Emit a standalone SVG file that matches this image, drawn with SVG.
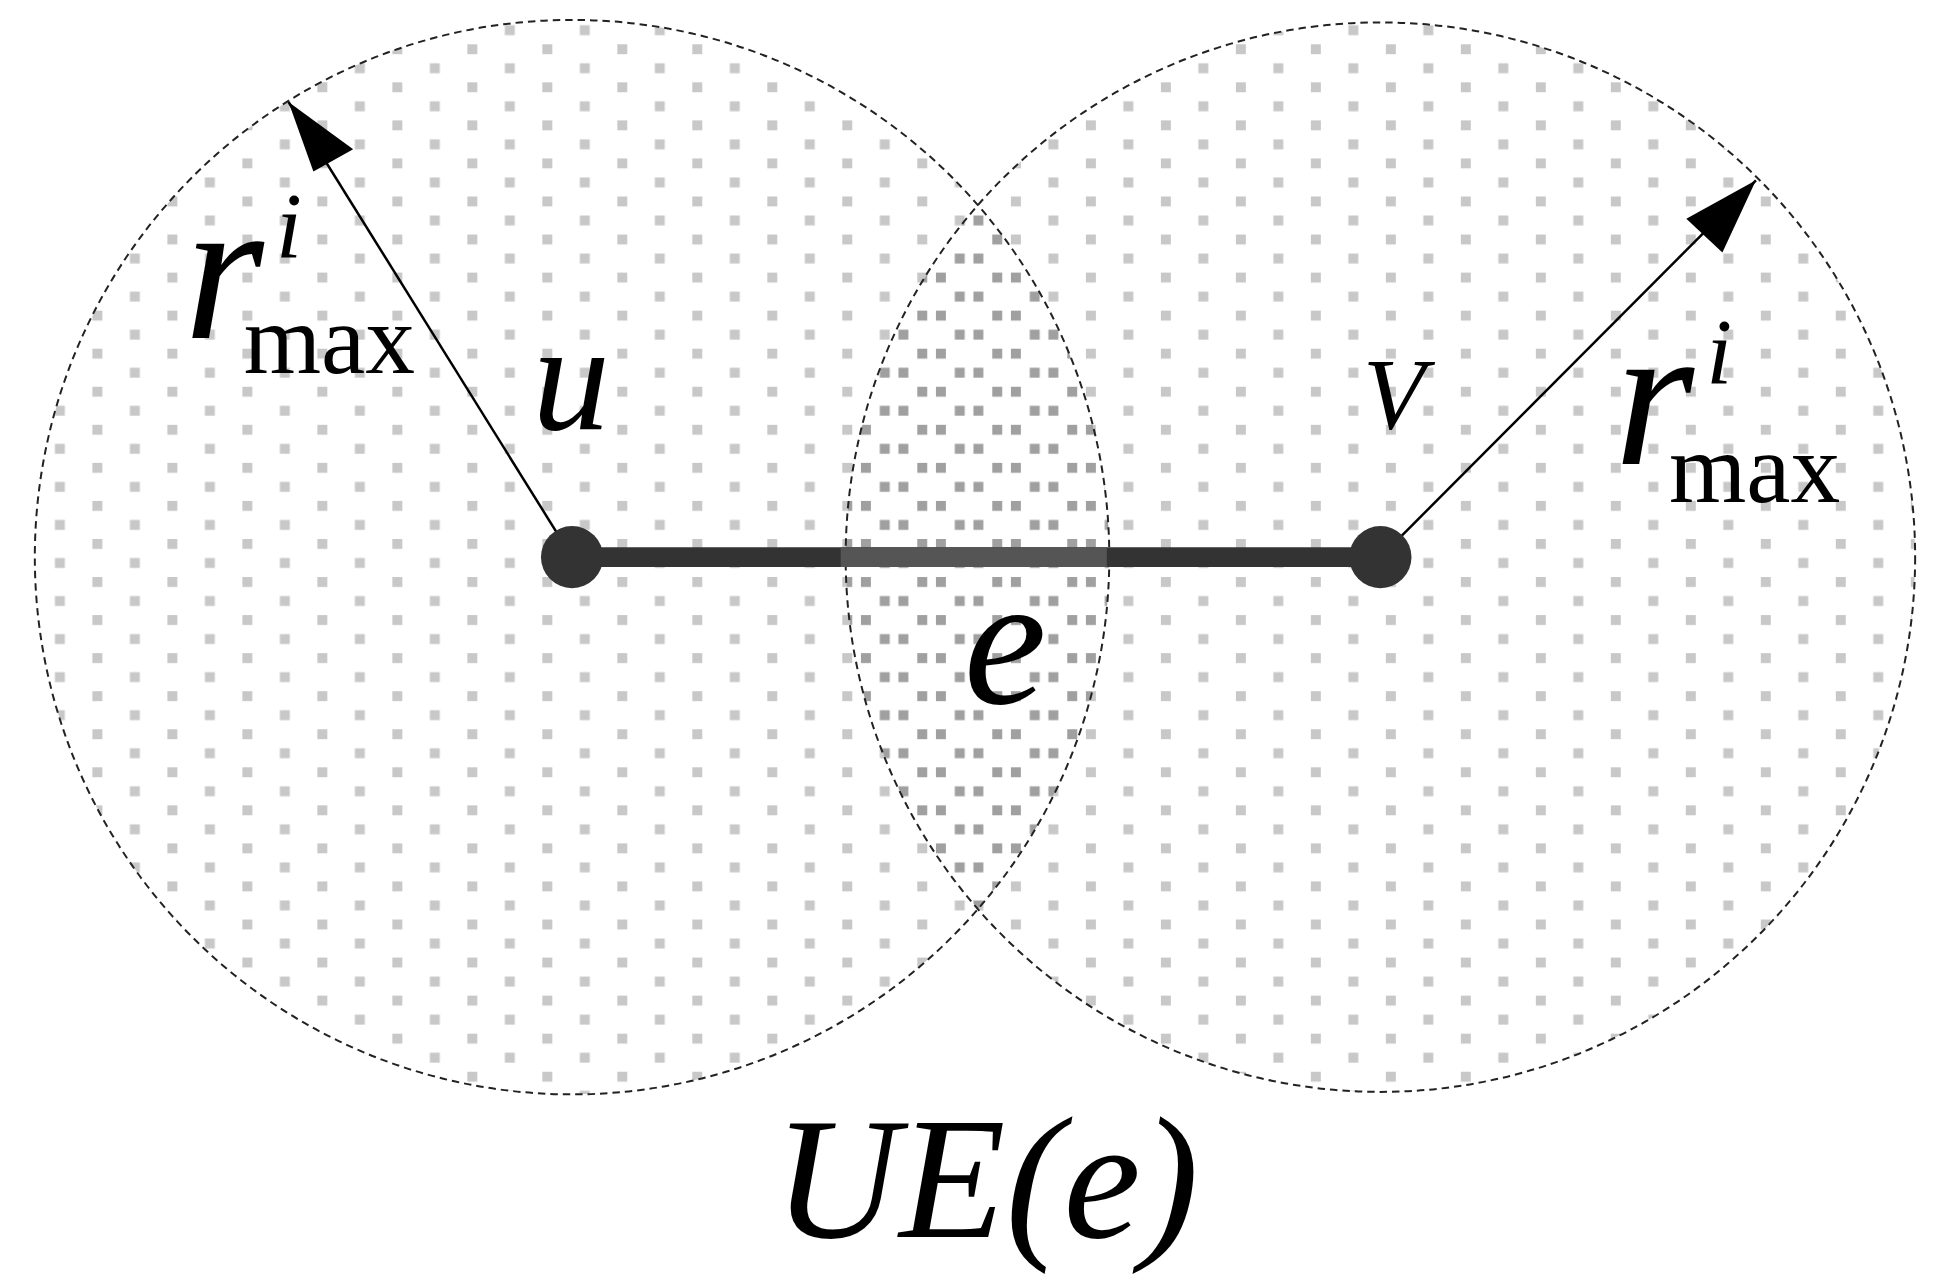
<svg xmlns="http://www.w3.org/2000/svg" width="1945" height="1274" viewBox="0 0 1945 1274">
<style>
text{font-family:"Liberation Serif","Times New Roman",serif;fill:#000}
.it{font-style:italic}
.circ{fill:none;stroke:#222;stroke-width:1.6;stroke-dasharray:6 4}
</style>
<defs>
<pattern id="pl" patternUnits="userSpaceOnUse" x="14" y="5" width="60.3" height="30.6"><rect x="0" y="0" width="8" height="8" fill="#c8c8c8"/><rect x="30.15" y="15.3" width="8" height="8" fill="#c8c8c8"/></pattern>
<pattern id="pr" patternUnits="userSpaceOnUse" x="29" y="5" width="60.3" height="30.6"><rect x="0" y="0" width="8" height="8" fill="#c8c8c8"/><rect x="30.15" y="15.3" width="8" height="8" fill="#c8c8c8"/></pattern>
<pattern id="pl2" patternUnits="userSpaceOnUse" x="14" y="5" width="60.3" height="30.6"><rect x="0" y="0" width="8" height="8" fill="#a0a0a0"/><rect x="30.15" y="15.3" width="8" height="8" fill="#a0a0a0"/></pattern>
<pattern id="pr2" patternUnits="userSpaceOnUse" x="29" y="5" width="60.3" height="30.6"><rect x="0" y="0" width="8" height="8" fill="#a0a0a0"/><rect x="30.15" y="15.3" width="8" height="8" fill="#a0a0a0"/></pattern>
<clipPath id="cl"><circle cx="460" cy="448" r="432"/></clipPath>
<clipPath id="cr"><circle cx="1110" cy="448" r="430"/></clipPath>
</defs>
<rect width="1945" height="1274" fill="#fff"/>
<g transform="scale(1.2436)">
<g id="regions">
<circle cx="460" cy="448" r="432" fill="url(#pl)"/>
<circle cx="1110" cy="448" r="430" fill="url(#pr)"/>
<g clip-path="url(#cl)"><g clip-path="url(#cr)"><rect x="600" y="0" width="400" height="900" fill="#fff"/><rect x="600" y="0" width="400" height="900" fill="url(#pl2)"/><rect x="600" y="0" width="400" height="900" fill="url(#pr2)"/></g></g>
<circle class="circ" cx="460" cy="448" r="432"/>
<circle class="circ" cx="1110" cy="448" r="430"/>
</g>
<g id="connectors">
<line x1="460" y1="448" x2="1110" y2="448" stroke="#333" stroke-width="16"/>
<line x1="676" y1="448" x2="890" y2="448" stroke="#555" stroke-width="16"/>
<line x1="460" y1="448" x2="232" y2="82" stroke="#000" stroke-width="2"/>
<path d="M232,82 L284,120 L252,138 z" fill="#000"/>
<line x1="1110" y1="448" x2="1412" y2="145" stroke="#000" stroke-width="2"/>
<path d="M1412,145 L1385,203 L1356,176 z" fill="#000"/>
</g>
<g id="node-u"><circle cx="460" cy="448" r="25" fill="#333"/><text class="it" x="428" y="345" font-size="125">u</text></g>
<g id="node-v"><circle cx="1110" cy="448" r="25" fill="#333"/><text class="it" x="1096" y="345" font-size="82">V</text></g>
<g id="labels">
<text class="it" x="148" y="272" font-size="165">r</text>
<text class="it" x="222" y="207" font-size="75">i</text>
<text x="196" y="300" font-size="80">max</text>
<text class="it" x="1298" y="373" font-size="165">r</text>
<text class="it" x="1372" y="308" font-size="75">i</text>
<text x="1342" y="404" font-size="80">max</text>
<text class="it" x="775" y="565" font-size="150">e</text>
<text class="it" x="622" y="995" font-size="140">UE(e)</text>
</g>
</g>
</svg>
